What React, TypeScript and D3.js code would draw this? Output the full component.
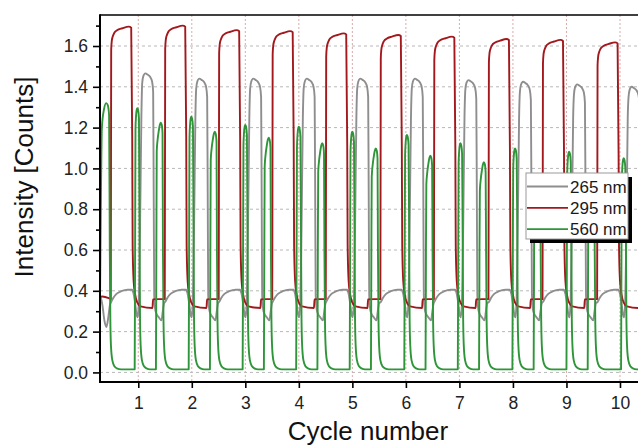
import { useEffect, useRef } from 'react'
import * as d3 from 'd3'

const W = 638, H = 445
const P = { left: 100, right: 640, top: 15, bottom: 382 }
const FONT = 'Liberation Sans, Arial, sans-serif'

// x position of each 295 nm falling edge (one per cycle)
const redDrop = [0.883, 1.892, 2.9, 3.9, 4.9, 5.92, 6.92, 7.94, 8.95, 9.97]
// per-cycle maxima
const redPeak = [1.695, 1.7, 1.678, 1.673, 1.662, 1.654, 1.646, 1.634, 1.63, 1.618]
const grayPeak = [1.466, 1.44, 1.44, 1.44, 1.44, 1.44, 1.433, 1.425, 1.412, 1.4]
const greenPeakA = [1.295, 1.253, 1.213, 1.204, 1.18, 1.164, 1.123, 1.098, 1.082, 1.05]
const greenPeakB = [1.224, 1.18, 1.15, 1.123, 1.098, 1.062, 1.03, 0.97, 0.95, 0.93]

// cycle shapes: [dx from the red fall, value, 0 = absolute / 1 = below peak A / 2 = below peak B]
type ShapePt = [number, number, number]

const redLead: [number, number][] = [[0.285, 0.37], [0.33, 0.372], [0.45, 0.364]]
const redShape: ShapePt[] = [
  [-0.397, 0.36, 0], [-0.389, 0.115, 1], [-0.378, 0.07, 1], [-0.362, 0.05, 1], [-0.33, 0.03, 1],
  [-0.28, 0.018, 1], [-0.18, 0.008, 1], [-0.06, 0, 1], [-0.015, 0.005, 1], [0.004, 0.55, 1],
  [0.012, 0.62, 0], [0.03, 0.45, 0], [0.06, 0.38, 0], [0.1, 0.342, 0], [0.16, 0.324, 0],
  [0.383, 0.316, 0], [0.393, 0.358, 0],
]

const grayLead: [number, number][] = [[0.285, 0.38], [0.33, 0.33], [0.37, 0.25], [0.405, 0.222], [0.44, 0.27], [0.47, 0.33]]
const grayShape: ShapePt[] = [
  [-0.39, 0.345, 0], [-0.35, 0.365, 0], [-0.29, 0.385, 0], [-0.2, 0.398, 0], [-0.08, 0.405, 0],
  [0.0, 0.405, 0], [0.03, 0.385, 0], [0.06, 0.335, 0], [0.085, 0.285, 0], [0.105, 0.27, 0],
  [0.125, 0.33, 0], [0.15, 0.7, 0], [0.175, 1.25, 0], [0.19, 0.05, 1], [0.21, 0.015, 1],
  [0.25, 0, 1], [0.29, 0.006, 1], [0.34, 0.018, 1], [0.375, 0.04, 1], [0.395, 0.09, 1],
  [0.405, 0.9, 0], [0.415, 0.38, 0], [0.44, 0.3, 0], [0.5, 0.27, 0], [0.55, 0.255, 0],
  [0.575, 0.3, 0], [0.6, 0.34, 0],
]

const greenLead: [number, number][] = [
  [0.285, 0.35], [0.3, 0.8], [0.32, 1.2], [0.36, 1.29], [0.4, 1.32], [0.43, 1.31], [0.455, 1.26],
  [0.468, 0.6], [0.478, 0.26], [0.49, 0.13], [0.515, 0.06], [0.555, 0.03], [0.6, 0.02], [0.68, 0.015],
]
const greenShape: ShapePt[] = [
  [0.05, 0.015, 0], [0.058, 0.6, 0], [0.065, 0.1, 1], [0.075, 0.04, 1], [0.09, 0.005, 1],
  [0.1, 0, 1], [0.115, 0.01, 1], [0.13, 0.05, 1], [0.14, 0.7, 0], [0.15, 0.26, 0],
  [0.162, 0.13, 0], [0.185, 0.06, 0], [0.225, 0.03, 0], [0.27, 0.02, 0], [0.34, 0.015, 0],
  [0.447, 0.015, 0], [0.455, 0.6, 0], [0.462, 0.14, 2], [0.48, 0.08, 2], [0.5, 0.04, 2],
  [0.52, 0.01, 2], [0.537, 0, 2], [0.555, 0.01, 2], [0.57, 0.05, 2], [0.578, 0.6, 0],
  [0.588, 0.26, 0], [0.6, 0.13, 0], [0.623, 0.06, 0], [0.663, 0.03, 0], [0.71, 0.02, 0],
  [0.78, 0.015, 0],
]

const yMajor = [0, 0.2, 0.4, 0.6, 0.8, 1.0, 1.2, 1.4, 1.6]
const yMinor = [0.1, 0.3, 0.5, 0.7, 0.9, 1.1, 1.3, 1.5, 1.7]
const xTicks = [1, 2, 3, 4, 5, 6, 7, 8, 9, 10]

const series = [
  { label: '265 nm', color: '#8e8e8e', lead: grayLead, shape: grayShape, a: grayPeak, b: grayPeak },
  { label: '295 nm', color: '#a3181c', lead: redLead, shape: redShape, a: redPeak, b: redPeak },
  { label: '560 nm', color: '#2e9638', lead: greenLead, shape: greenShape, a: greenPeakA, b: greenPeakB },
]

function trace(lead: [number, number][], shape: ShapePt[], a: number[], b: number[]) {
  const pts: [number, number][] = [...lead]
  redDrop.forEach((d, i) => {
    shape.forEach(([dx, v, rel]) => {
      pts.push([d + dx, rel === 0 ? v : (rel === 1 ? a[i] : b[i]) - v])
    })
  })
  return pts
}

function Chart() {
  const svgRef = useRef<SVGSVGElement>(null)

  useEffect(() => {
    const svg = d3.select(svgRef.current!)
    svg.selectAll('*').remove()

    const x = d3.scaleLinear().domain([0.285, 10.374]).range([P.left, P.right])
    const y = d3.scaleLinear().domain([-0.047, 1.752]).range([P.bottom, P.top])

    svg.append('defs').append('clipPath').attr('id', 'plot')
      .append('rect').attr('x', P.left).attr('y', P.top)
      .attr('width', P.right - P.left).attr('height', P.bottom - P.top)

    // grid
    yMajor.forEach(v => {
      svg.append('line').attr('x1', P.left).attr('x2', P.right).attr('y1', y(v)).attr('y2', y(v))
        .attr('stroke', '#b8b8b8').attr('stroke-width', 1).attr('stroke-dasharray', '3 3')
    })
    xTicks.forEach(v => {
      svg.append('line').attr('x1', x(v)).attr('x2', x(v)).attr('y1', P.top).attr('y2', P.bottom)
        .attr('stroke', '#dcaaaa').attr('stroke-width', 1).attr('stroke-dasharray', '2 2')
    })

    // data
    const line = d3.line<[number, number]>().x(d => x(d[0])).y(d => y(d[1])).curve(d3.curveMonotoneX)
    const plot = svg.append('g').attr('clip-path', 'url(#plot)')
    series.forEach(s => {
      plot.append('path').datum(trace(s.lead, s.shape, s.a, s.b))
        .attr('fill', 'none').attr('stroke', s.color).attr('stroke-width', 1.9)
        .attr('stroke-linejoin', 'round').attr('d', line)
    })

    // axes
    const yAx = svg.append('g').attr('transform', `translate(${P.left},0)`)
      .call(d3.axisLeft(y).tickValues(yMajor).tickSize(7).tickPadding(5).tickFormat(d3.format('.1f')))
    const yMin = svg.append('g').attr('transform', `translate(${P.left},0)`)
      .call(d3.axisLeft(y).tickValues(yMinor).tickSize(4).tickFormat(() => ''))
    const xAx = svg.append('g').attr('transform', `translate(0,${P.bottom})`)
      .call(d3.axisBottom(x).tickValues(xTicks).tickSize(6).tickPadding(9).tickFormat(d3.format('d')))
    ;[yAx, yMin, xAx].forEach(ax => {
      ax.select('.domain').remove()
      ax.selectAll('.tick line').attr('stroke', '#000').attr('stroke-width', 1.6)
      ax.selectAll<SVGTextElement, unknown>('.tick text')
        .attr('font-size', 17.5).attr('font-family', FONT).attr('fill', '#222')
    })

    // frame
    svg.append('line').attr('x1', P.left).attr('x2', P.right).attr('y1', P.top).attr('y2', P.top)
      .attr('stroke', '#000').attr('stroke-width', 1.5)
    svg.append('line').attr('x1', P.left).attr('x2', P.left).attr('y1', P.top - 0.75).attr('y2', P.bottom + 1)
      .attr('stroke', '#000').attr('stroke-width', 2)
    svg.append('line').attr('x1', P.left - 1).attr('x2', P.right).attr('y1', P.bottom).attr('y2', P.bottom)
      .attr('stroke', '#000').attr('stroke-width', 2)

    // titles
    svg.append('text').attr('x', 368).attr('y', 440).attr('text-anchor', 'middle')
      .attr('font-size', 26).attr('font-family', FONT).attr('fill', '#111').text('Cycle number')
    svg.append('text').attr('transform', 'translate(33,177) rotate(-90)').attr('text-anchor', 'middle')
      .attr('font-size', 26).attr('font-family', FONT).attr('fill', '#111').text('Intensity [Counts]')

    // legend
    const lg = svg.append('g').attr('transform', 'translate(526,173)')
    lg.append('rect').attr('x', 4).attr('y', 4).attr('width', 102).attr('height', 66).attr('fill', '#000')
    lg.append('rect').attr('x', 0).attr('y', 0).attr('width', 102).attr('height', 66)
      .attr('fill', '#fff').attr('stroke', '#999').attr('stroke-width', 1)
    series.forEach((s, i) => {
      const ly = 13.5 + i * 21.3
      lg.append('line').attr('x1', 1).attr('x2', 42).attr('y1', ly).attr('y2', ly)
        .attr('stroke', s.color).attr('stroke-width', 1.8)
      lg.append('text').attr('x', 44).attr('y', ly + 6).attr('font-size', 17).attr('font-family', FONT)
        .attr('fill', '#1a1a1a').text(s.label)
    })
  }, [])

  return <svg ref={svgRef} width={W} height={H} viewBox={`0 0 ${W} ${H}`} style={{ display: 'block' }} />
}

export default function App() {
  return (
    <div style={{ position: 'absolute', left: 0, top: 0, background: '#fff' }}>
      <Chart />
    </div>
  )
}
